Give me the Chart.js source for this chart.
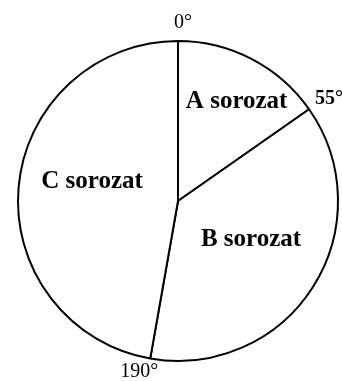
<!DOCTYPE html>
<html>
<head>
<meta charset="utf-8">
<script src="https://cdn.jsdelivr.net/npm/chart.js@4"></script>
<style>
  html, body { margin: 0; padding: 0; background: #ffffff; }
  #wrap { width: 342px; height: 381px; position: relative; }
</style>
</head>
<body>
<div id="wrap"><canvas id="c" width="342" height="381"></canvas></div>
<script>
// ---- data ----
const categories = ['A sorozat', 'B sorozat', 'C sorozat'];
const sliceDegrees = [55, 135, 170];
const boundaryLabels = ['0°', '55°', '190°'];

// ---- styling for text placement (not data) ----
const sliceLabelPlacement = [
  { frac: 0.72, angleOffset: 3.1 },
  { frac: 0.516, angleOffset: -4.7 },
  { frac: 0.55, angleOffset: 7.5 }
];
const boundaryLabelStyle = [
  { font: '20px "Liberation Serif"', align: 'center', dx: 5, dy: -18 },
  { font: 'bold 20px "Liberation Serif"', align: 'left', dx: 6, dy: -10 },
  { font: '20px "Liberation Serif"', align: 'center', dx: -11, dy: 13 }
];

const labelPlugin = {
  id: 'pieLabels',
  afterDatasetsDraw(chart) {
    const ctx = chart.ctx;
    const arcs = chart.getDatasetMeta(0).data;
    ctx.save();
    ctx.fillStyle = '#000';
    ctx.textBaseline = 'middle';
    arcs.forEach((arc, i) => {
      const p = arc.getProps(['x', 'y', 'startAngle', 'endAngle', 'outerRadius'], true);
      // slice label
      const pl = sliceLabelPlacement[i];
      const mid = (p.startAngle + p.endAngle) / 2 + pl.angleOffset * Math.PI / 180;
      const lx = p.x + Math.cos(mid) * p.outerRadius * pl.frac;
      const ly = p.y + Math.sin(mid) * p.outerRadius * pl.frac;
      ctx.font = 'bold 25px "Liberation Serif"';
      ctx.textAlign = 'center';
      ctx.fillText(categories[i], lx, ly);
      // boundary label at start angle of each slice
      const st = boundaryLabelStyle[i];
      const bx = p.x + Math.cos(p.startAngle) * p.outerRadius;
      const by = p.y + Math.sin(p.startAngle) * p.outerRadius;
      ctx.font = st.font;
      ctx.textAlign = st.align;
      ctx.fillText(boundaryLabels[i], bx + st.dx, by + st.dy);
    });
    ctx.restore();
  }
};

new Chart(document.getElementById('c'), {
  type: 'pie',
  data: {
    labels: categories,
    datasets: [{
      data: sliceDegrees,
      backgroundColor: '#ffffff',
      borderColor: '#000000',
      borderWidth: 2,
      hoverOffset: 0
    }]
  },
  options: {
    responsive: false,
    animation: false,
    events: [],
    layout: { padding: { left: 17, right: 3, top: 40, bottom: 19 } },
    plugins: {
      legend: { display: false },
      tooltip: { enabled: false }
    }
  },
  plugins: [labelPlugin]
});
</script>
</body>
</html>
